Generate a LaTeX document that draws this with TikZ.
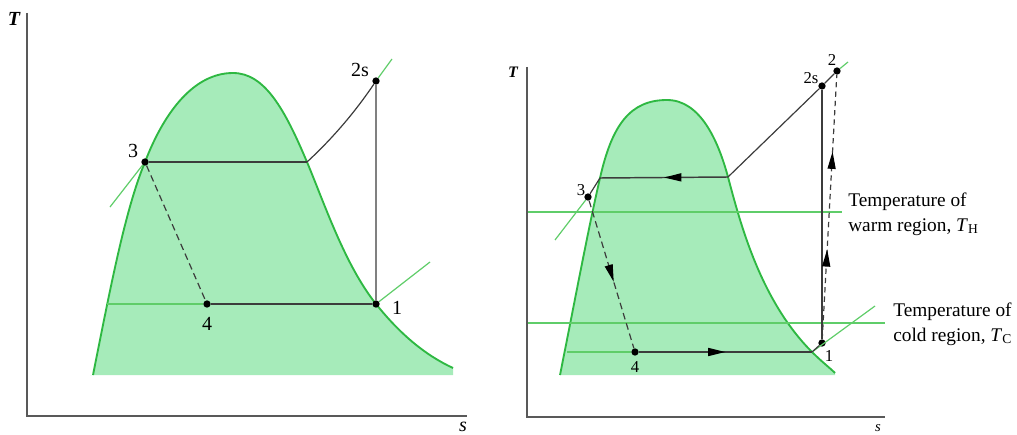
\documentclass[tikz,border=0pt]{standalone}
\usepackage{fontspec}
\setmainfont{Liberation Serif}
\usetikzlibrary{arrows.meta,decorations.markings}
\definecolor{domefill}{RGB}{166,235,186}
\definecolor{domeline}{RGB}{46,184,66}
\definecolor{isoline}{RGB}{95,205,105}
\definecolor{cycgray}{RGB}{60,60,60}

\tikzset{
  dot/.style={circle,fill=black,inner sep=0pt,minimum size=5.5pt},
  lbl/.style={inner sep=0pt,font=\fontsize{15}{18}\selectfont},
  lbr/.style={inner sep=0pt,font=\fontsize{12.5}{15}\selectfont},
  domeedge/.style={draw=domeline,line width=1.4pt},
  iso/.style={isoline,line width=0.9pt},
  cyc/.style={cycgray,line width=0.9pt},
  dsh/.style={cyc,dash pattern=on 5pt off 3pt},
  midarrow/.style={postaction={decorate},decoration={markings,
      mark=at position #1 with {\arrow{Triangle[length=13pt,width=6pt,color=black]}}}},
}

\begin{document}
\begin{tikzpicture}[x=0.75pt,y=-0.75pt]
  \useasboundingbox (0,0) rectangle (1017,435);

  % ---------- left diagram ----------
  \fill[domefill] (93,375) .. controls (110,290) and (125,210) .. (145,162)
      .. controls (165,110) and (195,73) .. (233,73)
      .. controls (265,73) and (285,110) .. (307,162)
      .. controls (325,205) and (345,265) .. (376,304)
      .. controls (400,334) and (425,355) .. (453,368)
      -- (453,375) -- (90,375) -- cycle;
  \draw[domeedge] (93,375) .. controls (110,290) and (125,210) .. (145,162)
      .. controls (165,110) and (195,73) .. (233,73)
      .. controls (265,73) and (285,110) .. (307,162)
      .. controls (325,205) and (345,265) .. (376,304)
      .. controls (400,334) and (425,355) .. (453,368);

  \draw[gray!70!black,line width=0.9pt] (27,13) -- (27,416) -- (467,416);
  \node[lbl,font=\fontsize{15}{18}\selectfont\itshape\bfseries] (lT) at (14,19) {T};
  \node[lbl,font=\fontsize{15}{18}\selectfont\itshape] (ls) at (463,427) {s};

  \node[dot] (l3) at (145,162) {};
  \node[dot] (l4) at (207,304) {};
  \node[dot] (l1) at (376,304) {};
  \node[dot] (l2s) at (376,81) {};
  \coordinate (la) at (307,162);
  \coordinate (lw) at (107,304);

  % saturation and isobar lines
  \draw[iso] (110,207) -- (l3);
  \draw[iso] (l2s) -- (392,59);
  \draw[iso] (l1) -- (430,262);
  \draw[iso] (lw) -- (l4);

  % cycle
  \draw[cyc] (l3) -- (la);
  \draw[cyc] (la) .. controls (333,138) and (355,112) .. (l2s);
  \draw[gray,line width=0.9pt] (l2s) -- (l1);
  \draw[cyc] (l4) -- (l1);
  \draw[dsh] (l3) -- (l4);

  \node[lbl] (t3) at (133,151) {3};
  \node[lbl] (t2s) at (360,70) {2s};
  \node[lbl] (t1) at (397,308) {1};
  \node[lbl] (t4) at (207,324) {4};

  % ---------- right diagram ----------
  \fill[domefill] (560,375) .. controls (575,300) and (588,230) .. (600,178)
      .. controls (612,125) and (630,100) .. (667,100)
      .. controls (700,100) and (718,140) .. (728,177)
      .. controls (740,222) and (760,300) .. (812,352)
      .. controls (822,362) and (830,368) .. (835,373)
      -- (835,375) -- cycle;
  \draw[domeedge] (560,375) .. controls (575,300) and (588,230) .. (600,178)
      .. controls (612,125) and (630,100) .. (667,100)
      .. controls (700,100) and (718,140) .. (728,177)
      .. controls (740,222) and (760,300) .. (812,352)
      .. controls (822,362) and (830,368) .. (835,373);

  \draw[gray!70!black,line width=0.9pt] (527,67) -- (527,417) -- (885,417);
  \node[lbr,font=\fontsize{12}{14}\selectfont\itshape\bfseries] (rT) at (513,72) {T};
  \node[lbr,font=\fontsize{11}{14}\selectfont\itshape] (rs) at (878,428) {s};

  % reservoir temperatures
  \coordinate (hw) at (528,212);
  \coordinate (he) at (842,212);
  \coordinate (cw) at (528,323);
  \coordinate (ce) at (885,323);
  \draw[iso,line width=1pt] (hw) -- (he);
  \draw[iso,line width=1pt] (cw) -- (ce);
  \node[lbr,anchor=west,align=left,font=\fontsize{14.5}{18.5}\selectfont] (warm) at (848,214)
      {Temperature of\\warm region, \textit{T}\textsubscript{H}};
  \node[lbr,anchor=west,align=left,font=\fontsize{14.5}{18.5}\selectfont] (cold) at (893,324)
      {Temperature of\\cold region, \textit{T}\textsubscript{C}};

  \node[dot] (r3) at (588,197) {};
  \node[dot] (r4) at (635,352) {};
  \node[dot] (r1) at (822,343) {};
  \node[dot] (r2s) at (822,86) {};
  \node[dot] (r2) at (837,71) {};
  \coordinate (ra) at (728,177);
  \coordinate (rb) at (600,178);
  \coordinate (rc) at (812,352);
  \coordinate (rw) at (567,352);

  \draw[iso] (555,240) -- (r3);
  \draw[iso] (r2) -- (848,62);
  \draw[iso] (rc) -- (875,306);
  \draw[iso] (rw) -- (r4);

  % cycle with directions
  \draw[cyc] (r2s) -- (r2);
  \draw[cyc] (ra) -- (r2s);
  \draw[cyc,line width=1.1pt,midarrow=0.5] (ra) -- (rb);
  \draw[cyc] (rb) -- (r3);
  \draw[dsh,midarrow=0.55] (r3) -- (r4);
  \draw[cyc,line width=1.1pt,midarrow=0.5] (r4) -- (rc);
  \draw[cyc] (rc) -- (r1);
  \draw[cyc,line width=1.1pt] (r1) -- (r2s);
  \draw[dsh,dash pattern=on 4pt off 3pt,
        postaction={decorate},decoration={markings,
        mark=at position 0.34 with {\arrow{Triangle[length=13pt,width=6pt,color=black]}},
        mark=at position 0.71 with {\arrow{Triangle[length=13pt,width=6pt,color=black]}}}] (r1) -- (r2);

  \node[lbr] (u3) at (581,190) {3};
  \node[lbr] (u4) at (635,367) {4};
  \node[lbr] (u1) at (829,356) {1};
  \node[lbr] (u2s) at (811,78) {2s};
  \node[lbr] (u2) at (832,60) {2};
\end{tikzpicture}
\end{document}
